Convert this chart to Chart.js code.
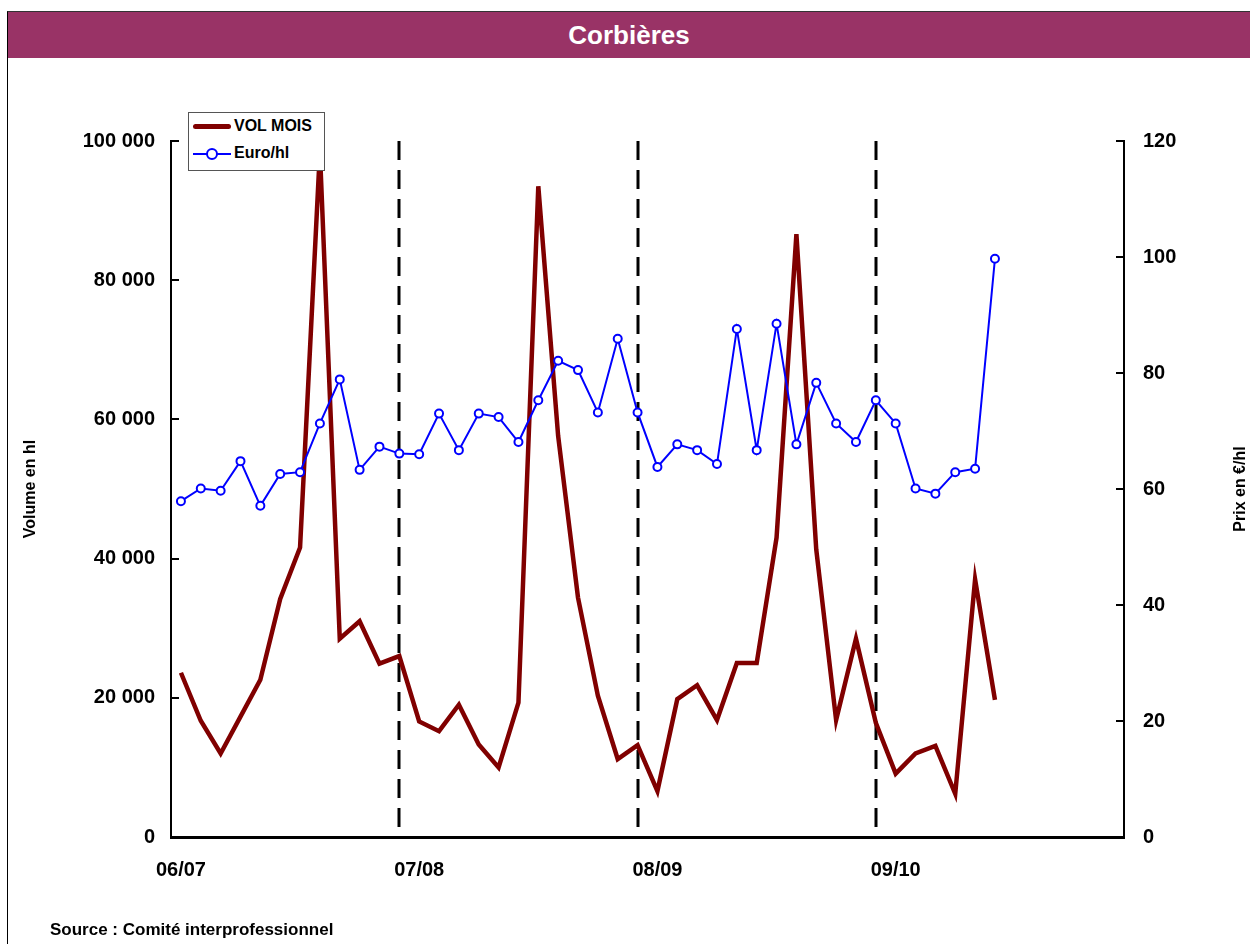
<!DOCTYPE html>
<html lang="fr">
<head>
<meta charset="utf-8">
<title>Corbières</title>
<script src="https://cdn.jsdelivr.net/npm/chart.js@4.4.1/dist/chart.umd.min.js"></script>
<style>
  html, body { margin: 0; padding: 0; background: #fff; }
  body { width: 1250px; height: 944px; position: relative; overflow: hidden; font-family: "Liberation Sans", Arial, sans-serif; }
  #frame { position: absolute; left: 7px; top: 11px; width: 1260px; height: 960px; border-left: 1px solid #000; border-top: 1px solid #333; }
  #titlebar { position: absolute; left: 8px; top: 12px; width: 1242px; height: 46px; background: #993366; color: #fff;
              font-weight: bold; font-size: 26px; line-height: 47px; text-align: center; }
  #chart { position: absolute; left: 0; top: 0; }
  #legend { position: absolute; left: 188px; top: 112px; width: 135px; height: 57px; border: 1px solid #555; background: #fff;
            font-weight: bold; font-size: 16px; color: #000; }
  #legend .swatch { position: absolute; }
  #legend .txt { position: absolute; left: 45px; line-height: 20px; }
  #source { position: absolute; left: 50px; top: 920px; font-weight: bold; font-size: 17px; color: #000; }
</style>
</head>
<body>
<div id="frame"></div>
<div id="titlebar">Corbières</div>
<canvas id="chart" width="1250" height="944"></canvas>
<div id="legend">
  <div class="swatch" style="left:4px;top:11px;width:38px;height:5px;background:#800000;border-radius:3px;"></div>
  <div class="txt" style="top:3px;">VOL MOIS</div>
  <div class="swatch" style="left:4px;top:40px;width:38px;height:2px;background:#0000ff;"></div>
  <div class="swatch" style="left:17px;top:35px;width:8px;height:8px;border:2px solid #0000ff;border-radius:50%;background:#fff;"></div>
  <div class="txt" style="top:30px;">Euro/hl</div>
</div>
<div id="source">Source : Comité interprofessionnel</div>

<script>
// Months of the 4 campaigns (Aug -> Jul)
const months = [
  'août 06', 'sept 06', 'oct 06', 'nov 06', 'déc 06', 'janv 07', 'févr 07', 'mars 07', 'avr 07', 'mai 07', 'juin 07', 'juil 07',
  'août 07', 'sept 07', 'oct 07', 'nov 07', 'déc 07', 'janv 08', 'févr 08', 'mars 08', 'avr 08', 'mai 08', 'juin 08', 'juil 08',
  'août 08', 'sept 08', 'oct 08', 'nov 08', 'déc 08', 'janv 09', 'févr 09', 'mars 09', 'avr 09', 'mai 09', 'juin 09', 'juil 09',
  'août 09', 'sept 09', 'oct 09', 'nov 09', 'déc 09', 'janv 10', 'févr 10', 'mars 10', 'avr 10', 'mai 10', 'juin 10', 'juil 10'
];
const campaigns = ['06/07', '07/08', '08/09', '09/10'];
const campaignEnds = [11, 23, 35]; // dashed separators

// VOL MOIS (hl)
const volMois = [
  23600, 16700, 12000, 17300, 22600, 34200, 41600, 98500, 28500, 31000, 24900, 26000,
  16600, 15200, 19000, 13300, 10000, 19300, 93500, 57600, 34400, 20300, 11200, 13200,
  6600, 19800, 21800, 16800, 25000, 25000, 43000, 86600, 41300, 16800, 28500, 16400,
  9100, 12000, 13100, 6200, 37000, 19700
];
// Euro/hl
const euroHl = [
  57.9, 60.1, 59.7, 64.8, 57.1, 62.6, 62.9, 71.3, 78.9, 63.3, 67.3, 66.1,
  66.0, 73.0, 66.7, 73.0, 72.4, 68.1, 75.3, 82.1, 80.5, 73.2, 85.9, 73.2,
  63.8, 67.7, 66.7, 64.3, 87.6, 66.7, 88.5, 67.7, 78.3, 71.3, 68.1, 75.3,
  71.3, 60.1, 59.2, 62.9, 63.5, 99.7
];

const volTicks = [0, 20000, 40000, 60000, 80000, 100000];
const prixTicks = [0, 20, 40, 60, 80, 100, 120];

const FONT = '"Liberation Sans", Arial, sans-serif';

function fmtThousands(v) {
  return String(v).replace(/\B(?=(\d{3})+(?!\d))/g, ' ');
}

// dashed campaign separators, inward tick marks and axis titles
const decorPlugin = {
  id: 'decor',
  beforeDatasetsDraw(chart) {
    const ctx = chart.ctx;
    const x = chart.scales.x, y = chart.scales.y;
    ctx.save();
    ctx.strokeStyle = '#000';
    ctx.lineWidth = 3;
    ctx.setLineDash([19, 10]);
    campaignEnds.forEach(i => {
      const px = Math.round(x.getPixelForValue(i));
      ctx.beginPath();
      ctx.moveTo(px, y.getPixelForValue(100000));
      ctx.lineTo(px, y.getPixelForValue(0));
      ctx.stroke();
    });
    ctx.restore();
  },
  afterDraw(chart) {
    const ctx = chart.ctx;
    const area = chart.chartArea;
    const y = chart.scales.y, y1 = chart.scales.y1;
    ctx.save();
    ctx.strokeStyle = '#000';
    ctx.lineWidth = 2;
    volTicks.forEach(v => {
      const py = Math.round(y.getPixelForValue(v));
      ctx.beginPath();
      ctx.moveTo(area.left, py);
      ctx.lineTo(area.left + 8, py);
      ctx.stroke();
    });
    prixTicks.forEach(v => {
      const py = Math.round(y1.getPixelForValue(v));
      ctx.beginPath();
      ctx.moveTo(area.right, py);
      ctx.lineTo(area.right - 8, py);
      ctx.stroke();
    });
    // axis titles, both reading upwards
    ctx.fillStyle = '#000';
    ctx.font = 'bold 16px ' + FONT;
    ctx.textAlign = 'center';
    ctx.textBaseline = 'middle';
    const midY = (area.top + area.bottom) / 2;
    [[31, 'Volume en hl'], [1241, 'Prix en €/hl']].forEach(([tx, label]) => {
      ctx.save();
      ctx.translate(tx, midY);
      ctx.rotate(-Math.PI / 2);
      ctx.fillText(label, 0, 0);
      ctx.restore();
    });
    ctx.restore();
  }
};

const chart = new Chart(document.getElementById('chart'), {
  type: 'line',
  data: {
    labels: months,
    datasets: [
      {
        label: 'VOL MOIS',
        data: volMois,
        yAxisID: 'y',
        borderColor: '#800000',
        borderWidth: 4.5,
        pointRadius: 0,
        tension: 0,
        order: 2
      },
      {
        label: 'Euro/hl',
        data: euroHl,
        yAxisID: 'y1',
        borderColor: '#0000ff',
        borderWidth: 2,
        pointRadius: 4,
        pointBorderWidth: 2,
        pointBorderColor: '#0000ff',
        pointBackgroundColor: '#fff',
        tension: 0,
        order: 1
      }
    ]
  },
  options: {
    responsive: false,
    animation: false,
    layout: { padding: { top: 141, left: 0, right: 0, bottom: 0 } },
    plugins: {
      legend: { display: false },
      tooltip: { enabled: false }
    },
    scales: {
      x: {
        type: 'category',
        offset: true,
        grid: { display: false, drawTicks: false },
        border: { display: true, color: '#000', width: 3 },
        ticks: {
          autoSkip: false,
          maxRotation: 0,
          padding: 21,
          color: '#000',
          font: { family: FONT, size: 20, weight: 'bold' },
          callback: (val, i) => (i % 12 === 0 ? campaigns[i / 12] : '')
        },
        afterFit: s => { s.height = 107; }
      },
      y: {
        position: 'left',
        min: 0,
        max: 100000,
        grid: { drawOnChartArea: false, drawTicks: false },
        border: { display: true, color: '#000', width: 2 },
        ticks: {
          stepSize: 20000,
          padding: 16,
          color: '#000',
          font: { family: FONT, size: 20, weight: 'bold' },
          callback: v => fmtThousands(v)
        },
        afterFit: s => { s.width = 171; }
      },
      y1: {
        position: 'right',
        min: 0,
        max: 120,
        grid: { drawOnChartArea: false, drawTicks: false },
        border: { display: true, color: '#000', width: 2 },
        ticks: {
          stepSize: 20,
          padding: 19,
          color: '#000',
          font: { family: FONT, size: 20, weight: 'bold' }
        },
        afterFit: s => { s.width = 126; }
      }
    }
  },
  plugins: [decorPlugin]
});
</script>
</body>
</html>
